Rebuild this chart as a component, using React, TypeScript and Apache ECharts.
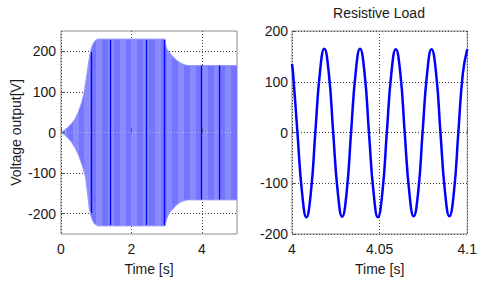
import React, { useEffect, useRef } from 'react';
import * as echarts from 'echarts';

// Left subplot: envelope of the (dense) voltage output signal
const envTime = [0, 0.1, 0.2, 0.3, 0.4, 0.5, 0.6, 0.65, 0.7, 0.75, 0.8, 0.85, 0.9, 0.95, 1.0, 1.05, 1.1, 2.96, 2.97, 3.0, 3.05, 3.1, 3.2, 3.3, 3.4, 3.5, 3.6, 5.0];
const envUpper = [0, 6, 13, 22, 34, 52, 78, 96, 122, 152, 182, 204, 217, 224, 228, 230, 230, 230, 218, 207, 200, 195, 185, 177, 171, 167, 165, 165];
const envLower = [0, -6, -14, -24, -38, -56, -80, -94, -112, -148, -186, -205, -218, -225, -228, -230, -230, -230, -224, -214, -203, -196, -186, -177, -171, -168, -166, -166];

// Dark vertical traces visible inside the band
const darkLineTime = [0.86, 1.4, 2.42, 2.94, 3.99, 4.5];
const darkLineTop = [198, 228, 228, 228, 165, 165];
const darkLineBottom = [-199, -228, -228, -228, -165, -165];

const leftXTicks = [0, 2, 4];
const leftYTicks = [-200, -100, 0, 100, 200];

// Right subplot: Resistive Load, 4.0 .. 4.1 s
const loadTime = [
  4.0, 4.0006, 4.0031, 4.0057, 4.0082, 4.0108, 4.0133, 4.0159, 4.0184,
  4.021, 4.0235, 4.0261, 4.0286, 4.0312, 4.0337, 4.0363, 4.0388,
  4.0414, 4.0439, 4.0465, 4.049, 4.0516, 4.0541, 4.0567, 4.0592,
  4.0618, 4.0643, 4.0669, 4.0694, 4.072, 4.0745, 4.0771, 4.0796,
  4.0822, 4.0847, 4.0873, 4.0898, 4.0924, 4.0949, 4.0975, 4.1,
];
const loadVoltage = [
  135, 117, 0, -117, -167, -117, 0, 117, 165,
  117, 0, -117, -166, -117, 0, 117, 165,
  117, 0, -117, -167, -117, 0, 117, 164,
  117, 0, -117, -165, -117, 0, 117, 164,
  117, 0, -117, -165, -117, 0, 117, 164,
];

const FONT = '"Liberation Sans", Arial, Helvetica, sans-serif';
const TXT = '#1a1a1a';

function stripes(n: number) {
  const stops: { offset: number; color: string }[] = [];
  for (let i = 0; i < n; i++) {
    const c = i % 2 ? '#7474ff' : '#8a8aff';
    stops.push({ offset: i / n, color: c }, { offset: (i + 1) / n, color: c });
  }
  return new echarts.graphic.LinearGradient(0, 0, 1, 0, stops);
}

export default function App() {
  const ref = useRef<HTMLDivElement>(null);
  useEffect(() => {
    if (!ref.current) return;
    const chart = echarts.init(ref.current, undefined, { renderer: 'svg' });
    const labelStyle = { fontSize: 14, color: TXT, fontFamily: FONT };
    const split = { show: true, lineStyle: { type: [1, 2] as any, color: '#444', width: 1 } };
    const tick = { show: true, inside: true, length: 4, lineStyle: { color: '#555' } };
    const fill = stripes(30);
    chart.setOption({
      animation: false,
      backgroundColor: '#fff',
      textStyle: { fontFamily: FONT },
      graphic: [
        {
          type: 'text',
          x: 379,
          y: 13,
          style: { text: 'Resistive Load', fill: TXT, font: `14px ${FONT}`, align: 'center', verticalAlign: 'middle' },
        },
      ],
      grid: [
        { left: 61, top: 31, width: 176, height: 203, show: true, borderColor: '#8c8c8c', borderWidth: 1, backgroundColor: '#fff' },
        { left: 292, top: 31, width: 177, height: 203, show: true, borderColor: '#8c8c8c', borderWidth: 1, backgroundColor: '#fff' },
      ],
      xAxis: [
        {
          type: 'value', gridIndex: 0, min: 0, max: 5, z: 3,
          axisLine: { show: false },
          axisTick: { ...tick, customValues: leftXTicks },
          axisLabel: { ...labelStyle, margin: 8, customValues: leftXTicks },
          splitLine: split,
          name: 'Time [s]', nameLocation: 'middle', nameGap: 28, nameTextStyle: labelStyle,
        },
        {
          type: 'value', gridIndex: 1, min: 4, max: 4.1, interval: 0.05,
          axisLine: { show: false },
          axisTick: tick,
          axisLabel: { ...labelStyle, margin: 8, formatter: (v: number) => String(parseFloat(v.toFixed(3))) },
          splitLine: split,
          name: 'Time [s]', nameLocation: 'middle', nameGap: 28, nameTextStyle: labelStyle,
        },
      ],
      yAxis: [
        {
          type: 'value', gridIndex: 0, min: -250, max: 250, z: 3,
          axisLine: { show: false },
          axisTick: { ...tick, customValues: leftYTicks },
          axisLabel: { ...labelStyle, margin: 5, customValues: leftYTicks },
          splitLine: split,
          name: 'Voltage output[V]', nameLocation: 'middle', nameGap: 38, nameTextStyle: labelStyle,
        },
        {
          type: 'value', gridIndex: 1, min: -200, max: 200, interval: 100,
          axisLine: { show: false },
          axisTick: tick,
          axisLabel: { ...labelStyle, margin: 4 },
          splitLine: split,
        },
      ],
      series: [
        {
          type: 'line', xAxisIndex: 0, yAxisIndex: 0, symbol: 'none', silent: true,
          data: envTime.map((t, i) => [t, envUpper[i]]),
          lineStyle: { width: 1, color: '#9a9aff' },
          areaStyle: { color: fill, opacity: 1 },
          markLine: {
            symbol: 'none', silent: true, label: { show: false },
            lineStyle: { color: '#0000ff', width: 1.3, type: 'solid', opacity: 1 },
            data: darkLineTime.map((t, i) => [
              { coord: [t, darkLineBottom[i]] },
              { coord: [t, darkLineTop[i]] },
            ]),
          },
        },
        {
          type: 'line', xAxisIndex: 0, yAxisIndex: 0, symbol: 'none', silent: true,
          data: envTime.map((t, i) => [t, envLower[i]]),
          lineStyle: { width: 1, color: '#9a9aff' },
          areaStyle: { color: fill, opacity: 1 },
        },
        {
          type: 'line', xAxisIndex: 1, yAxisIndex: 1, symbol: 'none', smooth: true, silent: true,
          data: loadTime.map((t, i) => [t, loadVoltage[i]]),
          lineStyle: { width: 2.5, color: '#0000ff' },
        },
      ],
    });
    return () => chart.dispose();
  }, []);
  return <div ref={ref} style={{ position: 'fixed', left: 0, top: 0, width: 480, height: 282 }} />;
}
